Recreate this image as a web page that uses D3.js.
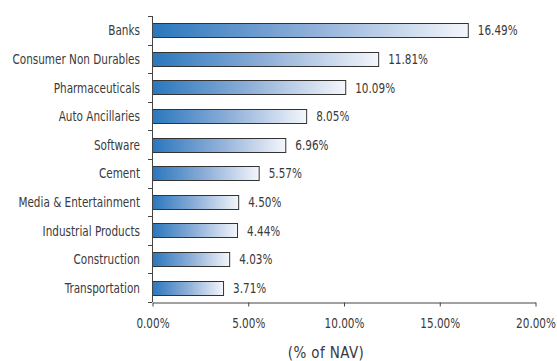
<!DOCTYPE html>
<html>
<head>
<meta charset="utf-8">
<script src="https://cdn.jsdelivr.net/npm/d3@7/dist/d3.min.js"></script>
<style>
  html, body { margin: 0; padding: 0; background: #fff; }
  svg { display: block; }
  text { font-family: "DejaVu Sans Condensed", "Liberation Sans Narrow", sans-serif; fill: #3a3a3a; }
</style>
</head>
<body>
<svg id="chart" width="557" height="361"></svg>
<script>
// Sector allocation (% of NAV)
const sectors = ["Banks", "Consumer Non Durables", "Pharmaceuticals", "Auto Ancillaries",
  "Software", "Cement", "Media & Entertainment", "Industrial Products",
  "Construction", "Transportation"];
const weights = [16.49, 11.81, 10.09, 8.05, 6.96, 5.57, 4.50, 4.44, 4.03, 3.71];
const xTicks = [0, 5, 10, 15, 20];
const axisTitle = "(% of NAV)";

const svg = d3.select("#chart");
const margin = { left: 152, right: 22, top: 16, bottom: 59 };
const W = 557, H = 361;
const FS = 14;      // label font size
const SX = 0.83;    // horizontal squeeze for a narrow face

const x = d3.scaleLinear().domain([0, 20]).range([margin.left, W - margin.right]);
const y = d3.scaleBand().domain(sectors).range([margin.top, H - margin.bottom]).paddingInner(0.5).paddingOuter(0.25);

// Horizontal gradient for the bars
const defs = svg.append("defs");
const grad = defs.append("linearGradient")
  .attr("id", "barFill").attr("x1", "0%").attr("x2", "100%").attr("y1", "0%").attr("y2", "0%");
grad.append("stop").attr("offset", "0%").attr("stop-color", "#2a77bd");
grad.append("stop").attr("offset", "50%").attr("stop-color", "#8eafd8");
grad.append("stop").attr("offset", "100%").attr("stop-color", "#f4f6fb");

const data = sectors.map((s, i) => ({ sector: s, value: weights[i] }));

svg.append("g").selectAll("rect").data(data).join("rect")
  .attr("x", x(0) + 0.5)
  .attr("y", d => Math.round(y(d.sector)) + 0.5)
  .attr("width", d => x(d.value) - x(0))
  .attr("height", Math.round(y.bandwidth()))
  .attr("fill", "url(#barFill)")
  .attr("stroke", "#333")
  .attr("stroke-width", 1);

// Value labels
svg.append("g").selectAll("text").data(data).join("text")
  .attr("transform", d => `translate(${x(d.value) + 10},${y(d.sector) + y.bandwidth() / 2}) scale(${SX},1)`)
  .attr("dy", "0.36em")
  .attr("font-size", FS)
  .text(d => d.value.toFixed(2) + "%");

// Y axis with ticks at band boundaries
const yAxisG = svg.append("g");
yAxisG.append("line")
  .attr("x1", x(0) + 0.5).attr("x2", x(0) + 0.5)
  .attr("y1", margin.top).attr("y2", H - margin.bottom)
  .attr("stroke", "#444");
const bounds = d3.range(sectors.length + 1).map(i => margin.top + i * (H - margin.top - margin.bottom) / sectors.length);
yAxisG.selectAll("line.tk").data(bounds).join("line").attr("class", "tk")
  .attr("x1", x(0) - 4).attr("x2", x(0))
  .attr("y1", d => Math.round(d) + 0.5).attr("y2", d => Math.round(d) + 0.5)
  .attr("stroke", "#444");
yAxisG.selectAll("text").data(sectors).join("text")
  .attr("transform", d => `translate(${x(0) - 12},${y(d) + y.bandwidth() / 2}) scale(${SX},1)`)
  .attr("dy", "0.36em")
  .attr("text-anchor", "end")
  .attr("font-size", FS)
  .text(d => d);

// X axis
const xAxis = d3.axisBottom(x).tickValues(xTicks).tickSize(4).tickSizeOuter(0)
  .tickFormat(d => d.toFixed(2) + "%");
const xg = svg.append("g").attr("transform", `translate(0.5,${Math.round(H - margin.bottom) + 0.5})`).call(xAxis);
xg.select(".domain").attr("stroke", "#444");
xg.selectAll(".tick line").attr("stroke", "#444");
xg.selectAll(".tick text")
  .attr("font-size", FS).attr("fill", "#3a3a3a")
  .attr("y", 20.5).attr("dy", "0.36em")
  .attr("transform", `scale(${SX},1)`)
  .style("font-family", "'DejaVu Sans Condensed', sans-serif");

svg.append("text")
  .attr("x", 326).attr("y", 353)
  .attr("dy", "0.36em")
  .attr("text-anchor", "middle")
  .attr("font-size", 15)
  .attr("letter-spacing", 0.4)
  .style("font-family", "'DejaVu Sans Condensed', sans-serif")
  .text(axisTitle);
</script>
</body>
</html>
